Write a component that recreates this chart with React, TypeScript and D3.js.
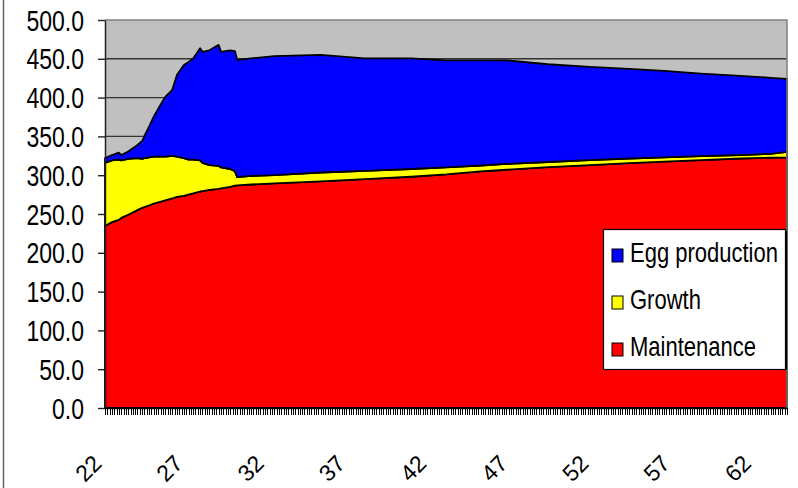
import { useEffect, useRef } from 'react';
import * as d3 from 'd3';

// age in days (week 22 = day 154, week 64 = day 448)
const days = [154, 157, 160, 161, 164, 168, 170, 171, 173, 175, 177, 180, 183, 185, 188, 190, 192, 195, 196, 199, 203, 204, 208, 210, 211, 217, 227, 247, 266, 286, 301, 316, 327, 345, 363, 380, 395, 411, 428, 441, 448];
const maintenance = [234.5, 239.5, 242.5, 245, 249, 255, 258, 259, 261, 263.5, 265, 267.5, 270, 272, 273.5, 275, 276.5, 279, 279.5, 281, 282.5, 283, 285, 286.5, 287, 288, 289.5, 292, 295, 298, 301, 305, 307, 310.5, 313, 315.5, 317.5, 319.5, 321.5, 322.5, 323];
const growth = [81.5, 79.5, 77.5, 74, 72, 67, 63, 63, 62, 60.5, 59, 56.5, 55, 52, 48.5, 45, 43.5, 40, 36.5, 32, 29.5, 27, 23, 18.5, 10.5, 11, 10.5, 11.5, 10.5, 10, 9, 7.5, 7.5, 6.5, 6.5, 6, 5.5, 5, 4.5, 5, 7];
const eggProduction = [6, 7, 9, 7, 9.5, 17, 23, 28.5, 39.5, 51.5, 62, 77, 85, 105, 120, 126, 130.5, 144.5, 143, 148, 156, 149, 153, 155, 151, 151.5, 153.5, 151.5, 145, 142.5, 138, 135.5, 133.5, 126, 120, 115.5, 111.5, 106.5, 102, 98, 94];

const seriesKeys = ['maintenance', 'growth', 'egg'];
const seriesColors = ['#ff0000', '#ffff00', '#0000ff'];
const legendLabels = ['Egg production', 'Growth', 'Maintenance'];
const legendColors = ['#0000ff', '#ffff00', '#ff0000'];
const yTicks = [0, 50, 100, 150, 200, 250, 300, 350, 400, 450, 500];
const weekLabels = [22, 27, 32, 37, 42, 47, 52, 57, 62];

const W = 798;
const H = 488;
const FONT = '"Liberation Sans", Arial, sans-serif';

export default function App() {
  const svgRef = useRef<SVGSVGElement | null>(null);

  useEffect(() => {
    if (!svgRef.current) return;
    const svg = d3.select(svgRef.current);
    svg.selectAll('*').remove();

    const left = 105, right = 787, top = 20, bottom = 408;

    const x = d3.scaleLinear().domain([154, 448]).range([left, right]);
    const y = d3.scaleLinear().domain([0, 500]).range([bottom, top]);

    // outer frame line on the left
    svg.append('line')
      .attr('x1', 3.5).attr('x2', 3.5).attr('y1', 0).attr('y2', H)
      .attr('stroke', '#666').attr('stroke-width', 1.5);

    // plot background
    svg.append('rect')
      .attr('x', left).attr('y', top)
      .attr('width', right - left).attr('height', bottom - top)
      .attr('fill', '#c0c0c0');

    // gridlines
    svg.append('g')
      .selectAll('line')
      .data(yTicks.filter(t => t > 0 && t < 500))
      .join('line')
      .attr('x1', left).attr('x2', right)
      .attr('y1', d => y(d)).attr('y2', d => y(d))
      .attr('stroke', '#333').attr('stroke-width', 1.4);

    // stacked areas
    const rows = days.map((d, i) => ({
      day: d,
      maintenance: maintenance[i],
      growth: growth[i],
      egg: eggProduction[i],
    }));
    const stacked = d3.stack<any>().keys(seriesKeys)(rows);
    const area = d3.area<any>()
      .x(d => x(d.data.day))
      .y0(d => y(d[0]))
      .y1(d => y(d[1]));

    svg.append('g')
      .selectAll('path')
      .data(stacked)
      .join('path')
      .attr('d', d => area(d) as string)
      .attr('fill', (_, i) => seriesColors[i])
      .attr('stroke', '#000')
      .attr('stroke-width', 1.8)
      .attr('stroke-linejoin', 'round');

    // plot border (top / right)
    svg.append('path')
      .attr('d', `M${left},${top}H${right}V${bottom}`)
      .attr('fill', 'none').attr('stroke', '#808080').attr('stroke-width', 1.5);

    // y axis
    const yAxis = svg.append('g')
      .attr('transform', `translate(${left},0)`)
      .call(d3.axisLeft(y).tickValues(yTicks).tickSize(7).tickSizeOuter(0).tickFormat(() => ''));
    yAxis.select('.domain').attr('stroke', '#222').attr('stroke-width', 1.5);
    yAxis.selectAll('.tick line').attr('stroke', '#222').attr('stroke-width', 1.4);

    svg.append('g')
      .selectAll('text')
      .data(yTicks)
      .join('text')
      .attr('transform', d => `translate(84,${y(d) + 10.5}) scale(1,1.25)`)
      .attr('text-anchor', 'end')
      .attr('font-family', FONT)
      .attr('font-size', 23)
      .attr('fill', '#000')
      .text(d => d3.format('.1f')(d));

    // x axis with a tick per day
    const xAxis = svg.append('g')
      .attr('transform', `translate(0,${bottom})`)
      .call(d3.axisBottom(x).tickValues(d3.range(154, 449)).tickSize(7).tickSizeOuter(0).tickFormat(() => ''));
    xAxis.select('.domain').attr('stroke', '#000').attr('stroke-width', 1.5);
    xAxis.selectAll('.tick line').attr('stroke', '#000').attr('stroke-width', 1).attr('shape-rendering', 'crispEdges');

    svg.append('g')
      .selectAll('text')
      .data(weekLabels)
      .join('text')
      .attr('transform', d => `translate(${x(d * 7) - 2},465) rotate(-45)`)
      .attr('text-anchor', 'end')
      .attr('font-family', FONT)
      .attr('font-size', 23)
      .attr('fill', '#000')
      .text(d => String(d));

    // legend
    const lg = svg.append('g');
    lg.append('rect')
      .attr('x', 603.5).attr('y', 229.5).attr('width', 182).attr('height', 140)
      .attr('fill', '#fff').attr('stroke', '#000').attr('stroke-width', 1.2);
    lg.append('line')
      .attr('x1', 786).attr('x2', 786).attr('y1', 231).attr('y2', 370)
      .attr('stroke', '#000').attr('stroke-width', 2);

    const items = lg.selectAll('g.item')
      .data(legendLabels)
      .join('g')
      .attr('class', 'item')
      .attr('transform', (_, i) => `translate(0,${256 + i * 47})`);
    items.append('rect')
      .attr('x', 612).attr('y', -7).attr('width', 11).attr('height', 13)
      .attr('fill', (_, i) => legendColors[i])
      .attr('stroke', '#000').attr('stroke-width', 1);
    items.append('text')
      .attr('transform', 'translate(630,6) scale(1,1.25)')
      .attr('font-family', FONT)
      .attr('font-size', 22)
      .attr('fill', '#000')
      .text(d => d);
  }, []);

  return (
    <svg
      ref={svgRef}
      width={W}
      height={H}
      style={{ position: 'absolute', left: 0, top: 0, display: 'block', background: '#fff' }}
    />
  );
}
